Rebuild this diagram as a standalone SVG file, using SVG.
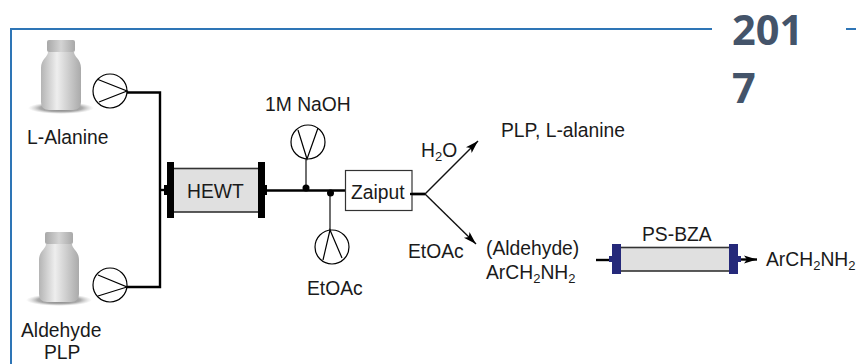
<svg xmlns="http://www.w3.org/2000/svg" width="856" height="364" viewBox="0 0 856 364">
<style>
text{font-family:"Liberation Sans",Arial,sans-serif;font-size:19.300px;fill:#1a1a1a}
.sub{font-size:13px}
.year{font-family:"Open Sans",sans-serif;font-weight:700;font-size:41.500px;fill:#44546a}
.frame{fill:none;stroke:#2e75b6;stroke-width:2}
.pipe{fill:none;stroke:#000;stroke-width:2.400}
.stem{fill:none;stroke:#333;stroke-width:1.400}
.thin{fill:none;stroke:#111;stroke-width:1.400}
.pump{fill:#fff;stroke:#000;stroke-width:1.200}
.vane{fill:none;stroke:#000;stroke-width:1.200}
.body{fill:#e0e0e0;stroke:#333;stroke-width:1.600}
.blk{fill:#000}
.nav{fill:#25297a}
.dot{fill:#000}
</style>
<defs>
<linearGradient id="bg" x1="0" x2="1" y1="0" y2="0"><stop offset="0" stop-color="#b4b4b4"/><stop offset=".4" stop-color="#eeeeee"/><stop offset="1" stop-color="#aaaaaa"/></linearGradient>
<linearGradient id="cg" x1="0" x2="1" y1="0" y2="0"><stop offset="0" stop-color="#a8a8a8"/><stop offset=".5" stop-color="#d4d4d4"/><stop offset="1" stop-color="#a8a8a8"/></linearGradient>
<radialGradient id="sg"><stop offset="0" stop-color="#666"/><stop offset=".65" stop-color="#888" stop-opacity=".7"/><stop offset="1" stop-color="#bbb" stop-opacity="0"/></radialGradient>
<marker id="ah" markerUnits="userSpaceOnUse" markerWidth="14" markerHeight="10" refX="13" refY="5" orient="auto"><path d="M0 1 L13 5 L0 9 L3 5Z" fill="#000"/></marker>
<g id="bottle">
<ellipse cx="20" cy="68" rx="33" ry="6" fill="url(#sg)"/>
<path d="M7 12 H33 C33 17 40 19 40 28 V62 Q40 70 32 70 H8 Q0 70 0 62 V28 C0 19 7 17 7 12Z" fill="url(#bg)"/>
<rect x="6" y="0" width="28" height="12" rx="2" fill="url(#cg)"/>
</g>
</defs>
<rect width="856" height="364" fill="#fff"/>
<path class="frame" d="M712 29 H11 V364"/>
<path class="frame" d="M846 29 H856"/>
<text class="year" x="732" y="45">201</text>
<text class="year" x="732" y="103">7</text>
<g id="connectors">
<path class="pipe" d="M127 92.500 H160 V287 H127"/>
<path class="pipe" d="M160 190 H166"/>
<path class="pipe" d="M265 190.500 H347"/>
<path class="stem" d="M306 159 V188"/>
<path class="stem" d="M330 193 V230"/>
<path class="pipe" d="M410 194 H425"/>
<path class="thin" d="M425 194 L478 141" marker-end="url(#ah)"/>
<path class="thin" d="M425 194 L476 244" marker-end="url(#ah)"/>
<path class="pipe" d="M596 260 H610"/>
<path class="pipe" d="M740 259.500 H757" marker-end="url(#ah)"/>
<circle class="dot" cx="306" cy="188" r="3.500"/>
<circle class="dot" cx="330.500" cy="193" r="3.500"/>
</g>
<g id="bottle-alanine"><use href="#bottle" x="41" y="40"/><text x="27" y="144">L-Alanine</text></g>
<g id="pump-alanine"><circle class="pump" cx="110" cy="91" r="17"/><path class="vane" d="M98 79.500 L127 91 L99 102"/></g>
<g id="bottle-aldehyde"><use href="#bottle" x="39" y="232"/><text x="21" y="337">Aldehyde</text><text x="44" y="359">PLP</text></g>
<g id="pump-aldehyde"><circle class="pump" cx="110" cy="285" r="17"/><path class="vane" d="M98 275 L127 287 L98 296"/></g>
<g id="hewt">
<rect class="body" x="172" y="168.500" width="88" height="43.500"/>
<rect class="blk" x="167" y="162" width="7" height="56"/>
<rect class="blk" x="258" y="162" width="7" height="56"/>
<rect class="blk" x="164" y="185" width="4" height="10"/>
<rect class="blk" x="264" y="185" width="3" height="10"/>
<text x="187" y="198">HEWT</text>
</g>
<g id="pump-naoh"><circle class="pump" cx="308" cy="142" r="17"/><path class="vane" d="M298 130 L307 159 L318 128"/><text x="265" y="111">1M NaOH</text></g>
<g id="pump-etoac"><circle class="pump" cx="332" cy="247" r="17"/><path class="vane" d="M323 260 L330 230 L342 258"/><text x="307" y="295">EtOAc</text></g>
<g id="zaiput"><rect x="345.500" y="170.500" width="66.500" height="40" fill="#fff" stroke="#333" stroke-width="1.200"/><text x="351" y="199">Zaiput</text></g>
<path class="pipe" d="M410 194 H425"/>
<text x="421" y="157">H<tspan class="sub" dy="4">2</tspan><tspan dy="-4">O</tspan></text>
<text x="501" y="137">PLP, L-alanine</text>
<text x="408" y="258">EtOAc</text>
<text x="486" y="255">(Aldehyde)</text>
<text x="486" y="279">ArCH<tspan class="sub" dy="4">2</tspan><tspan dy="-4">NH</tspan><tspan class="sub" dy="4">2</tspan></text>
<g id="ps-bza">
<rect class="body" x="618" y="247.500" width="114" height="23.500"/>
<rect class="nav" x="612" y="244" width="9" height="30"/>
<rect class="nav" x="729" y="244" width="9" height="30"/>
<rect class="nav" x="609" y="256" width="4" height="6"/>
<rect class="nav" x="737" y="256" width="4" height="6"/>
<text x="642" y="241">PS-BZA</text>
</g>
<text x="766" y="266">ArCH<tspan class="sub" dy="4">2</tspan><tspan dy="-4">NH</tspan><tspan class="sub" dy="4">2</tspan></text>
</svg>
